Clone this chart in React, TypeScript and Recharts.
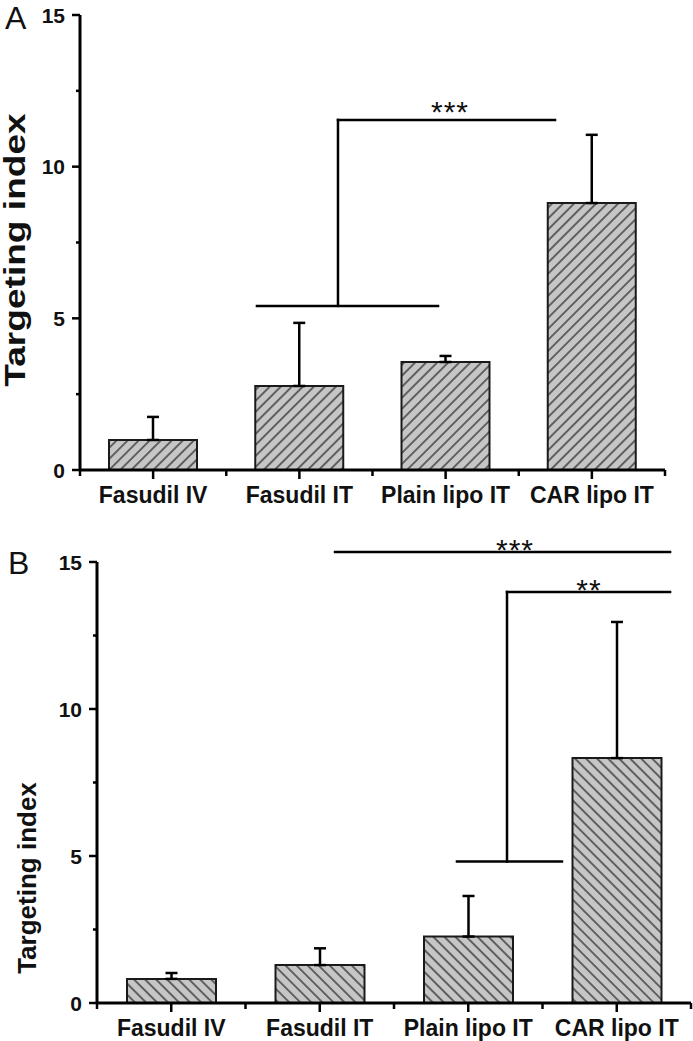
import React from 'react';
import {
  ComposedChart,
  Bar,
  XAxis,
  YAxis,
  ErrorBar,
  ReferenceLine,
  ReferenceDot,
} from 'recharts';

// ---------------- data ----------------
const categories = ['Fasudil IV', 'Fasudil IT', 'Plain lipo IT', 'CAR lipo IT'];
const categoryPos = [0.5, 1.5, 2.5, 3.5];

const meanA = [0.99, 2.77, 3.56, 8.8];
const sdA = [0.76, 2.08, 0.2, 2.25];

const meanB = [0.82, 1.29, 2.26, 8.33];
const sdB = [0.2, 0.57, 1.38, 4.63];

const yTicks = [0, 2.5, 5, 7.5, 10, 12.5, 15];
const xTicks = [0, 0.5, 1, 1.5, 2, 2.5, 3, 3.5, 4];

// significance brackets: x in category units (0..4), y in data units
const bracketsA: number[][][] = [
  [[1.21, 5.41], [2.448, 5.41]],
  [[1.764, 5.41], [1.764, 11.54]],
  [[1.764, 11.54], [3.248, 11.54]],
];
const starsA = [{ x: 2.53, y: 12.03, text: '***' }];

const bracketsB: number[][][] = [
  [[1.603, 15.34], [3.859, 15.34]],
  [[2.424, 4.81], [3.131, 4.81]],
  [[2.761, 4.81], [2.761, 13.98]],
  [[2.761, 13.98], [3.859, 13.98]],
];
const starsB = [
  { x: 2.815, y: 15.65, text: '***' },
  { x: 3.313, y: 14.29, text: '**' },
];

const FONT = '"Liberation Sans", Arial, Helvetica, sans-serif';

const buildData = (means: number[], sds: number[]) =>
  categories.map((name, i) => ({ name, pos: categoryPos[i], value: means[i], err: [0, sds[i]] }));

const dataA = buildData(meanA, sdA);
const dataB = buildData(meanB, sdB);

// ---------------- ticks ----------------
const XTick = (props: any) => {
  const { x, y, payload } = props;
  const v = Number(payload.value);
  const isCenter = Math.abs(v - Math.floor(v) - 0.5) < 1e-6;
  if (isCenter) {
    return (
      <g>
        <line x1={x} x2={x} y1={y} y2={y + 9} stroke="#000" strokeWidth={2.5} />
        <text
          x={x}
          y={y + 33}
          textAnchor="middle"
          fontSize={23}
          fontWeight="bold"
          fontFamily={FONT}
          fill="#111"
        >
          {categories[Math.floor(v)]}
        </text>
      </g>
    );
  }
  return <line x1={x} x2={x} y1={y} y2={y + 6} stroke="#000" strokeWidth={2.5} />;
};

const YTick = (props: any) => {
  const { x, y, payload } = props;
  const v = Number(payload.value);
  const major = v % 5 === 0;
  return (
    <g>
      <line x1={x - (major ? 8 : 4)} x2={x} y1={y} y2={y} stroke="#000" strokeWidth={2.5} />
      {major && (
        <text
          x={x - 15}
          y={y + 7.5}
          textAnchor="end"
          fontSize={21}
          fontWeight="bold"
          fontFamily={FONT}
          fill="#111"
        >
          {v}
        </text>
      )}
    </g>
  );
};

const starShape = (text: string) => (p: any) => (
  <text
    x={p.cx}
    y={p.cy + 17}
    textAnchor="middle"
    fontSize={30}
    fontFamily={FONT}
    letterSpacing={1}
    fill="#111"
  >
    {text}
  </text>
);

// ---------------- panel ----------------
type PanelProps = {
  data: any[];
  brackets: number[][][];
  stars: { x: number; y: number; text: string }[];
  pattern: string;
  height: number;
  margin: { top: number; right: number; left: number; bottom: number };
  yWidth: number;
  xHeight: number;
  barSize: number;
};

const Panel = ({ data, brackets, stars, pattern, height, margin, yWidth, xHeight, barSize }: PanelProps) => (
  <ComposedChart width={693} height={height} data={data} margin={margin}>
    <XAxis
      xAxisId="num"
      dataKey="pos"
      type="number"
      domain={[0, 4]}
      allowDataOverflow
      ticks={xTicks}
      interval={0}
      tick={XTick}
      tickLine={false}
      tickSize={0}
      tickMargin={0}
      height={xHeight}
      axisLine={{ stroke: '#000', strokeWidth: 3 }}
    />
    <XAxis xAxisId="cat" dataKey="name" hide height={0} />
    <YAxis
      type="number"
      domain={[0, 15]}
      ticks={yTicks}
      interval={0}
      tick={YTick}
      tickLine={false}
      tickSize={0}
      tickMargin={0}
      width={yWidth}
      axisLine={{ stroke: '#000', strokeWidth: 3 }}
    />
    <Bar
      xAxisId="cat"
      dataKey="value"
      barSize={barSize}
      fill={`url(#${pattern})`}
      stroke="#1a1a1a"
      strokeWidth={2}
      isAnimationActive={false}
    >
      <ErrorBar dataKey="err" width={6} strokeWidth={2.5} stroke="#000" direction="y" />
    </Bar>
    {brackets.map((seg, i) => (
      <ReferenceLine
        key={`b${i}`}
        xAxisId="num"
        segment={[
          { x: seg[0][0], y: seg[0][1] },
          { x: seg[1][0], y: seg[1][1] },
        ]}
        stroke="#000"
        strokeWidth={2.5}
        strokeLinecap="square"
        ifOverflow="visible"
      />
    ))}
    {stars.map((s, i) => (
      <ReferenceDot
        key={`s${i}`}
        xAxisId="num"
        x={s.x}
        y={s.y}
        r={0}
        ifOverflow="visible"
        shape={starShape(s.text)}
      />
    ))}
  </ComposedChart>
);

export default function App() {
  return (
    <div
      style={{
        position: 'absolute',
        left: 0,
        top: 0,
        width: 693,
        height: 1041,
        background: '#fff',
        overflow: 'hidden',
      }}
    >
      <svg width={0} height={0} style={{ position: 'absolute' }}>
        <defs>
          <pattern id="hatchA" patternUnits="userSpaceOnUse" width={7.8} height={7.8} patternTransform="rotate(45)">
            <rect width={7.8} height={7.8} fill="#c6c6c6" />
            <line x1={3.9} y1={0} x2={3.9} y2={7.8} stroke="#2a2a2a" strokeWidth={1.3} />
          </pattern>
          <pattern id="hatchB" patternUnits="userSpaceOnUse" width={7.8} height={7.8} patternTransform="rotate(-45)">
            <rect width={7.8} height={7.8} fill="#c6c6c6" />
            <line x1={3.9} y1={0} x2={3.9} y2={7.8} stroke="#2a2a2a" strokeWidth={1.3} />
          </pattern>
        </defs>
      </svg>

      <div style={{ position: 'absolute', left: 0, top: 0 }}>
        <Panel
          data={dataA}
          brackets={bracketsA}
          stars={starsA}
          pattern="hatchA"
          height={520}
          margin={{ top: 15, right: 28, left: 0, bottom: 0 }}
          yWidth={80}
          xHeight={50}
          barSize={88}
        />
      </div>
      <div style={{ position: 'absolute', left: 0, top: 520 }}>
        <Panel
          data={dataB}
          brackets={bracketsB}
          stars={starsB}
          pattern="hatchB"
          height={521}
          margin={{ top: 42, right: 2, left: 0, bottom: 0 }}
          yWidth={97}
          xHeight={38}
          barSize={89}
        />
      </div>

      <svg
        width={693}
        height={1041}
        style={{ position: 'absolute', left: 0, top: 0, pointerEvents: 'none' }}
      >
        <text x={5} y={29} fontSize={32} fontFamily={FONT} fill="#111">
          A
        </text>
        <text x={8} y={574} fontSize={32} fontFamily={FONT} fill="#111">
          B
        </text>
        <text
          transform="translate(15,250) rotate(-90) scale(1.28,1)"
          textAnchor="middle"
          dominantBaseline="central"
          fontSize={29}
          fontWeight="bold"
          fontFamily={FONT}
          fill="#111"
        >
          Targeting index
        </text>
        <text
          transform="translate(27,878) rotate(-90)"
          textAnchor="middle"
          dominantBaseline="central"
          fontSize={26}
          fontWeight="bold"
          fontFamily={FONT}
          fill="#111"
        >
          Targeting index
        </text>
      </svg>
    </div>
  );
}
